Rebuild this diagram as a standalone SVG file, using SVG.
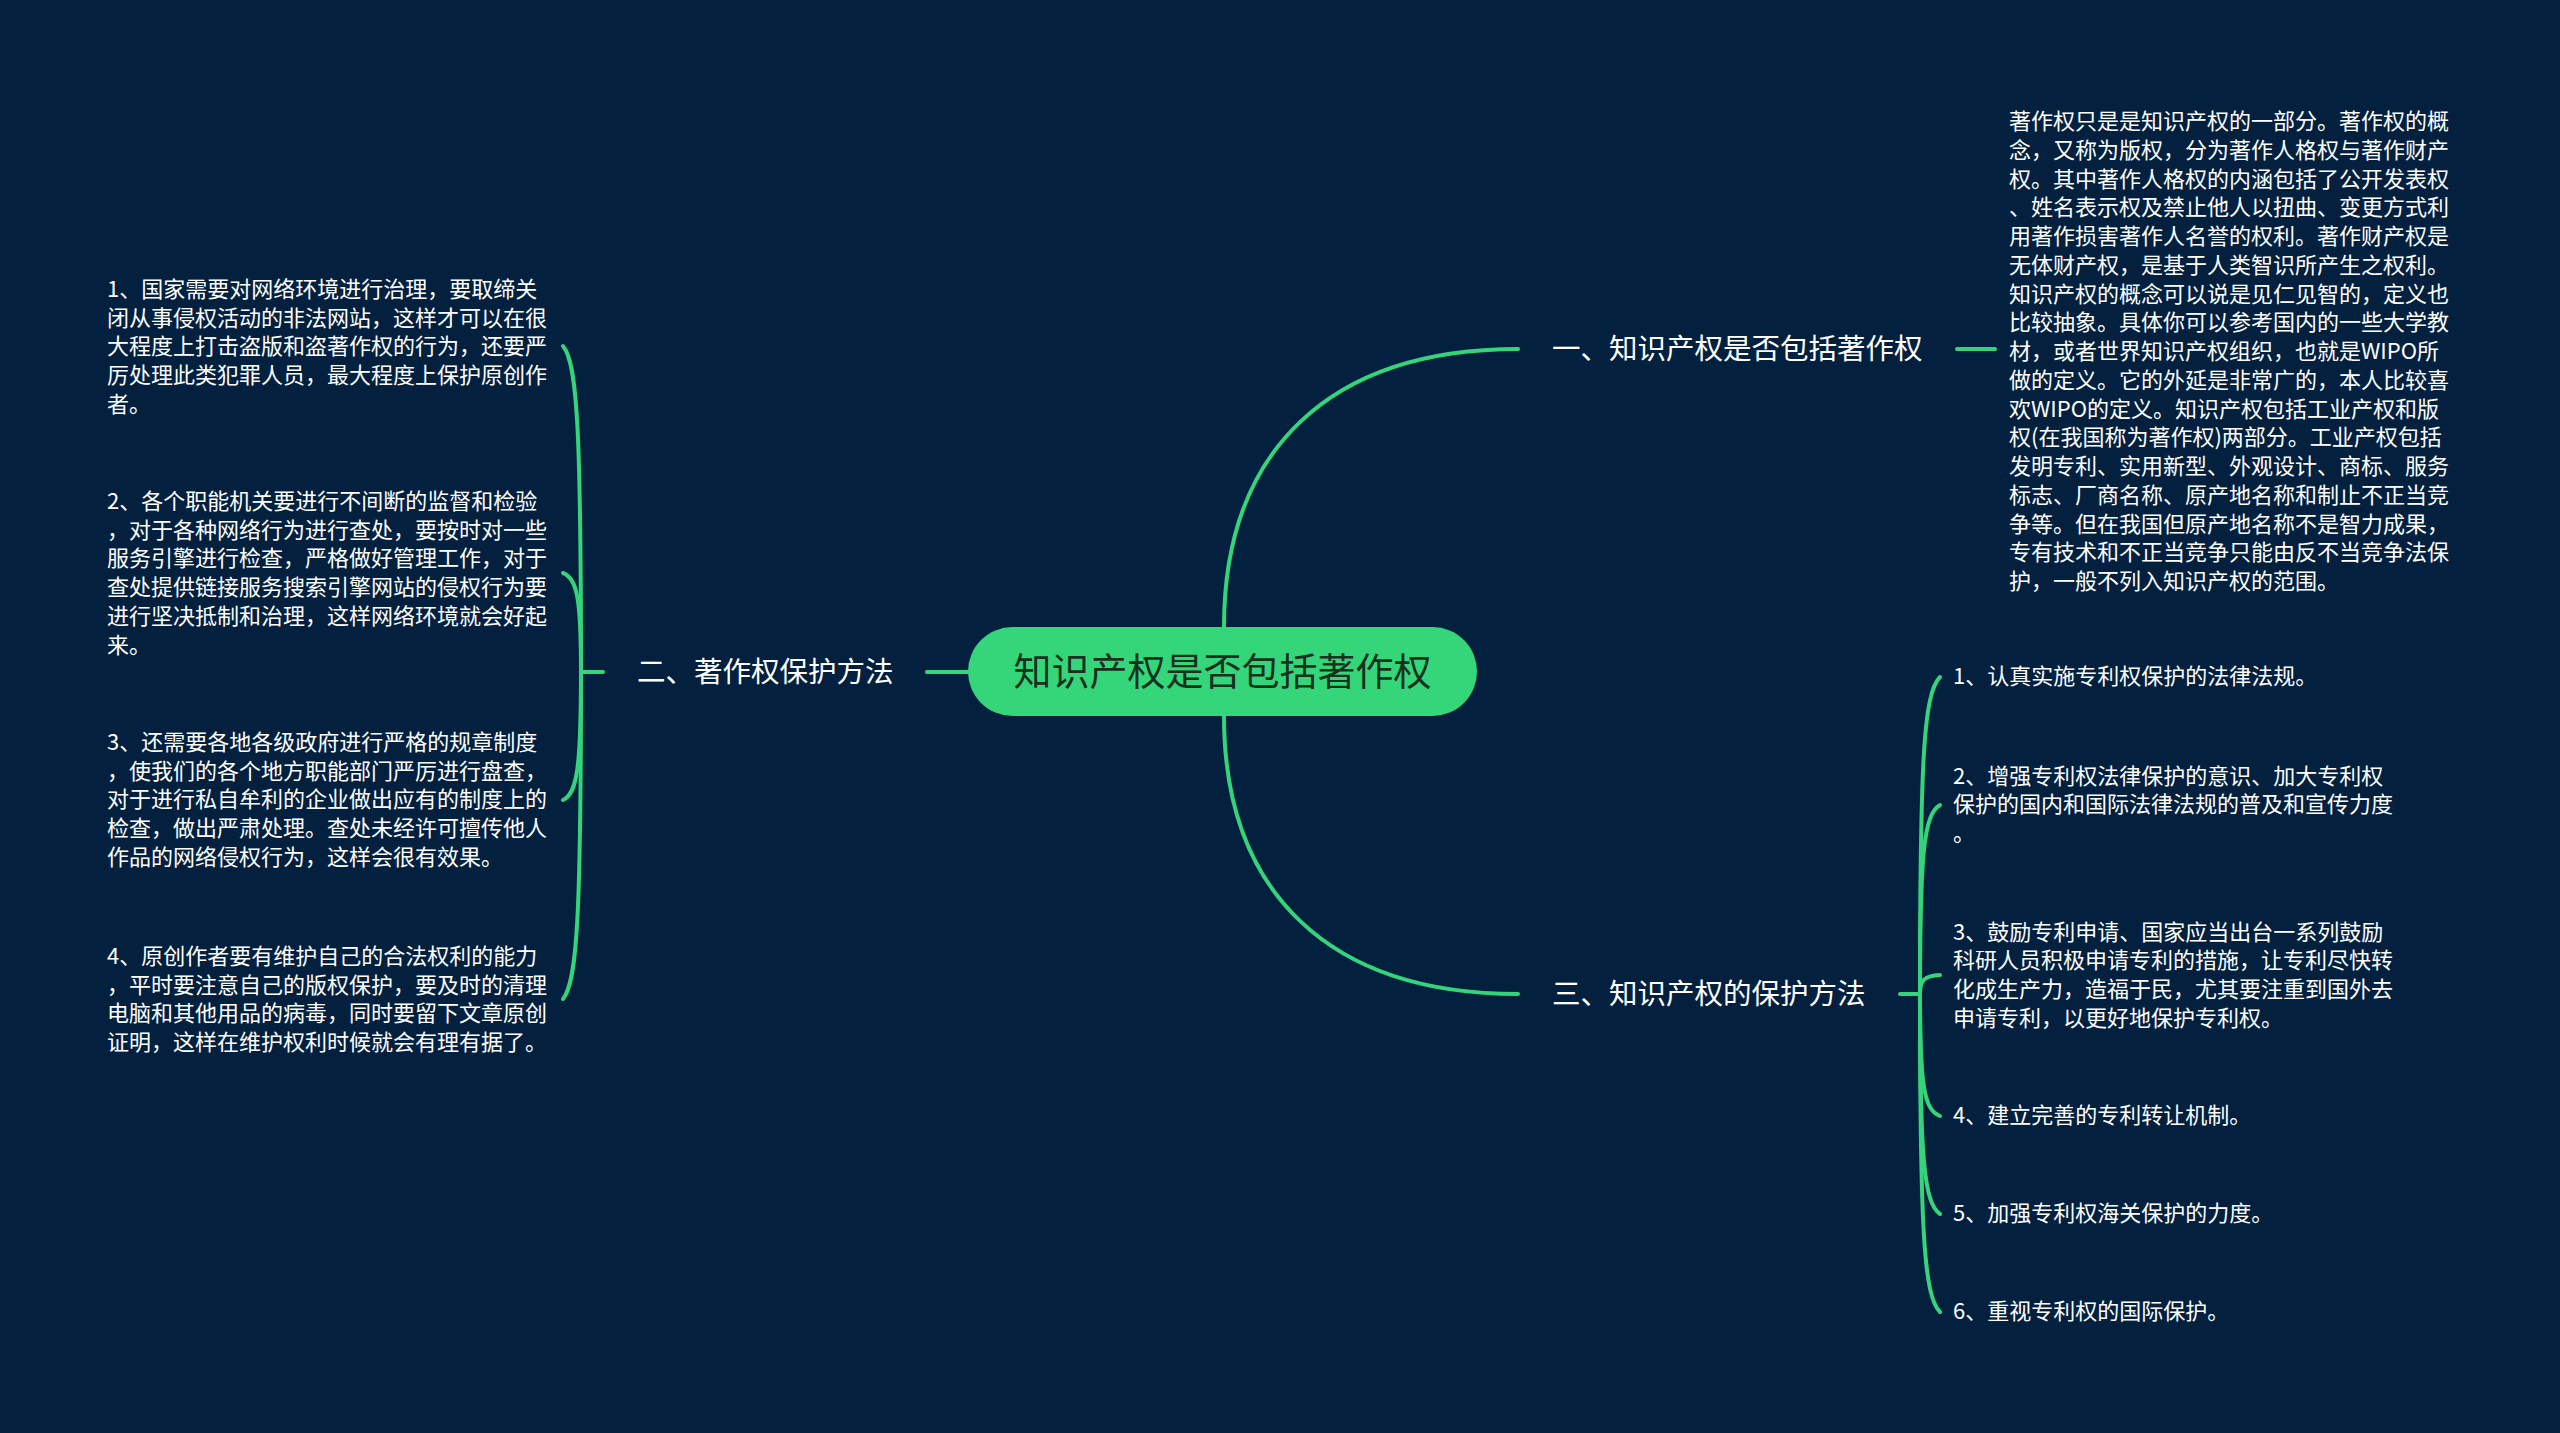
<svg xmlns="http://www.w3.org/2000/svg" width="2560" height="1433" viewBox="0 0 2560 1433">
<style>
.bg{fill:#03213f}
.ln{fill:none;stroke:#35d47a;stroke-width:4;stroke-linecap:round}
.t{font-family:"Noto Sans CJK SC","Noto Sans",sans-serif;fill:#ffffff;dominant-baseline:central}
.s{font-size:22px}
.b{font-size:28.5px}
.c{font-size:38px;fill:#17311f}
.root{fill:#34d679}
</style>
<rect class="bg" x="0" y="0" width="2560" height="1433"/>
<g id="connectors">
<path class="ln" d="M1224,627 C1224,450 1330,349 1518,349"/>
<path class="ln" d="M1224,716 C1224,893 1330,994 1518,994"/>
<path class="ln" d="M968,672 L927,672"/>
<path class="ln" d="M1957,349 L1995,349"/>
<path class="ln" d="M603,672 L581,672"/>
<path class="ln" d="M581,672 C581,427.5 577,362.3 563,346"/>
<path class="ln" d="M581,672 C581,597.75 577,578 563,573"/>
<path class="ln" d="M581,672 C581,768 577,793.6 563,800"/>
<path class="ln" d="M581,672 C581,917 577,982.6 563,999"/>
<path class="ln" d="M1900,994 L1920,994"/>
<path class="ln" d="M1920,994 C1920,756 1924,693 1940,677"/>
<path class="ln" d="M1920,994 C1920,852 1924,814.5 1940,805"/>
<path class="ln" d="M1920,994 C1920,980 1924,976 1940,975"/>
<path class="ln" d="M1920,994 C1920,1085.5 1924,1110 1940,1116"/>
<path class="ln" d="M1920,994 C1920,1159 1924,1203 1940,1214"/>
<path class="ln" d="M1920,994 C1920,1232.5 1924,1296 1940,1312"/>
</g>
<g id="root">
<rect class="root" x="968" y="627" width="509" height="89" rx="44.5"/>
<text class="t c" x="1222.5" y="668" text-anchor="middle">知识产权是否包括著作权</text>
</g>
<g id="branch1">
<text class="t b" x="1552" y="346">一、知识产权是否包括著作权</text>
</g>
<g id="branch1-detail">
<text class="t s" x="2009" transform="translate(0,-3)">
<tspan x="2009" y="122">著作权只是是知识产权的一部分。著作权的概</tspan>
<tspan x="2009" y="150.75">念，又称为版权，分为著作人格权与著作财产</tspan>
<tspan x="2009" y="179.5">权。其中著作人格权的内涵包括了公开发表权</tspan>
<tspan x="2009" y="208.25">、姓名表示权及禁止他人以扭曲、变更方式利</tspan>
<tspan x="2009" y="237">用著作损害著作人名誉的权利。著作财产权是</tspan>
<tspan x="2009" y="265.75">无体财产权，是基于人类智识所产生之权利。</tspan>
<tspan x="2009" y="294.5">知识产权的概念可以说是见仁见智的，定义也</tspan>
<tspan x="2009" y="323.25">比较抽象。具体你可以参考国内的一些大学教</tspan>
<tspan x="2009" y="352">材，或者世界知识产权组织，也就是WIPO所</tspan>
<tspan x="2009" y="380.75">做的定义。它的外延是非常广的，本人比较喜</tspan>
<tspan x="2009" y="409.5">欢WIPO的定义。知识产权包括工业产权和版</tspan>
<tspan x="2009" y="438.25">权(在我国称为著作权)两部分。工业产权包括</tspan>
<tspan x="2009" y="467">发明专利、实用新型、外观设计、商标、服务</tspan>
<tspan x="2009" y="495.75">标志、厂商名称、原产地名称和制止不正当竞</tspan>
<tspan x="2009" y="524.5">争等。但在我国但原产地名称不是智力成果，</tspan>
<tspan x="2009" y="553.25">专有技术和不正当竞争只能由反不当竞争法保</tspan>
<tspan x="2009" y="582">护，一般不列入知识产权的范围。</tspan>
</text>
</g>
<g id="branch2">
<text class="t b" x="637" y="669">二、著作权保护方法</text>
</g>
<g id="branch2-item1">
<text class="t s" transform="translate(0,-3)">
<tspan x="107" y="290">1、国家需要对网络环境进行治理，要取缔关</tspan>
<tspan x="107" y="318.7">闭从事侵权活动的非法网站，这样才可以在很</tspan>
<tspan x="107" y="347.4">大程度上打击盗版和盗著作权的行为，还要严</tspan>
<tspan x="107" y="376.1">厉处理此类犯罪人员，最大程度上保护原创作</tspan>
<tspan x="107" y="404.8">者。</tspan>
</text>
</g>
<g id="branch2-item2">
<text class="t s" transform="translate(0,-3)">
<tspan x="107" y="502">2、各个职能机关要进行不间断的监督和检验</tspan>
<tspan x="107" y="530.7">，对于各种网络行为进行查处，要按时对一些</tspan>
<tspan x="107" y="559.4">服务引擎进行检查，严格做好管理工作，对于</tspan>
<tspan x="107" y="588.1">查处提供链接服务搜索引擎网站的侵权行为要</tspan>
<tspan x="107" y="616.8">进行坚决抵制和治理，这样网络环境就会好起</tspan>
<tspan x="107" y="645.5">来。</tspan>
</text>
</g>
<g id="branch2-item3">
<text class="t s" transform="translate(0,-3)">
<tspan x="107" y="743">3、还需要各地各级政府进行严格的规章制度</tspan>
<tspan x="107" y="771.7">，使我们的各个地方职能部门严厉进行盘查，</tspan>
<tspan x="107" y="800.4">对于进行私自牟利的企业做出应有的制度上的</tspan>
<tspan x="107" y="829.1">检查，做出严肃处理。查处未经许可擅传他人</tspan>
<tspan x="107" y="857.8">作品的网络侵权行为，这样会很有效果。</tspan>
</text>
</g>
<g id="branch2-item4">
<text class="t s" transform="translate(0,-3)">
<tspan x="107" y="957">4、原创作者要有维护自己的合法权利的能力</tspan>
<tspan x="107" y="985.7">，平时要注意自己的版权保护，要及时的清理</tspan>
<tspan x="107" y="1014.4">电脑和其他用品的病毒，同时要留下文章原创</tspan>
<tspan x="107" y="1043.1">证明，这样在维护权利时候就会有理有据了。</tspan>
</text>
</g>
<g id="branch3">
<text class="t b" x="1552" y="991">三、知识产权的保护方法</text>
</g>
<g id="branch3-item1">
<text class="t s" x="1953" y="674">1、认真实施专利权保护的法律法规。</text>
</g>
<g id="branch3-item2">
<text class="t s" transform="translate(0,-3)">
<tspan x="1953" y="776.5">2、增强专利权法律保护的意识、加大专利权</tspan>
<tspan x="1953" y="805.2">保护的国内和国际法律法规的普及和宣传力度</tspan>
<tspan x="1953" y="833.9">。</tspan>
</text>
</g>
<g id="branch3-item3">
<text class="t s" transform="translate(0,-3)">
<tspan x="1953" y="932.5">3、鼓励专利申请、国家应当出台一系列鼓励</tspan>
<tspan x="1953" y="961.2">科研人员积极申请专利的措施，让专利尽快转</tspan>
<tspan x="1953" y="989.9">化成生产力，造福于民，尤其要注重到国外去</tspan>
<tspan x="1953" y="1018.6">申请专利，以更好地保护专利权。</tspan>
</text>
</g>
<g id="branch3-item4">
<text class="t s" x="1953" y="1113">4、建立完善的专利转让机制。</text>
</g>
<g id="branch3-item5">
<text class="t s" x="1953" y="1211">5、加强专利权海关保护的力度。</text>
</g>
<g id="branch3-item6">
<text class="t s" x="1953" y="1309">6、重视专利权的国际保护。</text>
</g>
</svg>
